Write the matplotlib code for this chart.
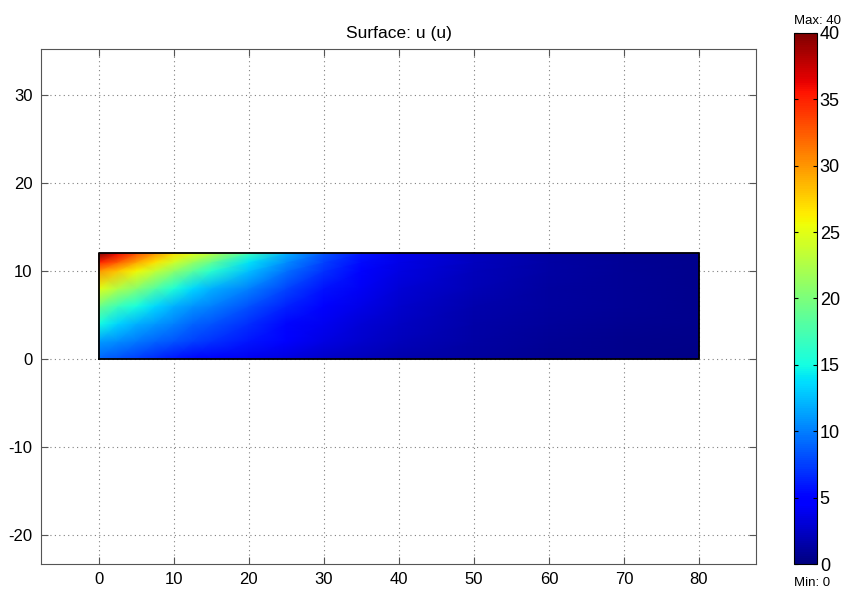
import numpy as np
import matplotlib
matplotlib.use("Agg")
import matplotlib.pyplot as plt

plt.rcParams['font.family'] = ['Liberation Sans', 'DejaVu Sans']
plt.rcParams['axes.unicode_minus'] = False

# sample grid of the surface
x_pts = [0, 2.5, 5, 7.5, 10, 12.5, 15, 20, 25, 30, 35, 40, 50, 60, 70, 80]
y_pts = [0, 2, 4, 6, 8, 10, 11, 12]
u_y0  = [9.0, 8.2, 7.4, 6.6, 5.8, 5.2, 4.7, 4.0, 3.3, 2.6, 2.1, 1.7, 1.1, 0.7, 0.5, 0.3]
u_y2  = [11.2, 10.5, 9.7, 9.0, 8.3, 7.6, 7.0, 5.9, 4.6, 3.5, 2.7, 2.1, 1.3, 0.9, 0.6, 0.4]
u_y4  = [15.0, 13.3, 12.0, 11.0, 10.0, 9.0, 8.3, 6.8, 5.3, 4.0, 3.1, 2.4, 1.5, 1.0, 0.7, 0.5]
u_y6  = [19.5, 17.0, 15.2, 13.5, 12.0, 10.8, 10.0, 8.2, 6.4, 4.8, 3.6, 2.7, 1.7, 1.1, 0.8, 0.5]
u_y8  = [25.0, 22.5, 20.5, 18.0, 15.5, 13.5, 12.0, 10.0, 7.7, 5.7, 4.2, 3.1, 1.9, 1.2, 0.8, 0.6]
u_y10 = [30.0, 28.0, 25.8, 23.5, 21.0, 18.5, 16.0, 12.6, 9.5, 7.0, 5.0, 3.5, 2.1, 1.3, 0.9, 0.6]
u_y11 = [35.0, 32.5, 29.5, 26.8, 24.2, 21.5, 19.0, 14.0, 10.5, 7.6, 5.4, 3.7, 2.2, 1.4, 0.9, 0.6]
u_y12 = [40.0, 36.0, 33.0, 30.0, 27.0, 25.0, 23.0, 17.0, 12.0, 8.3, 5.8, 3.9, 2.3, 1.4, 0.9, 0.6]

cbar_ticks = [0, 5, 10, 15, 20, 25, 30, 35, 40]
x_ticks = [0, 10, 20, 30, 40, 50, 60, 70, 80]
y_ticks = [-20, -10, 0, 10, 20, 30]

U = np.array([u_y0, u_y2, u_y4, u_y6, u_y8, u_y10, u_y11, u_y12])
X, Y = np.meshgrid(x_pts, y_pts)

fig = plt.figure(figsize=(8.46, 5.93), dpi=100)
ax = fig.add_axes([0.0485, 0.0489, 0.8451, 0.8685])
mesh = ax.pcolormesh(X, Y, U, shading='gouraud', cmap='jet', vmin=0, vmax=40, zorder=2)
ax.plot([0, 80, 80, 0, 0], [0, 0, 12, 12, 0], color='black', lw=1.3, zorder=3)

ax.set_xlim(-7.7, 87.6)
ax.set_ylim(-23.3, 35.2)
ax.set_xticks(x_ticks)
ax.set_yticks(y_ticks)
ax.grid(True, linestyle=(0, (1, 3)), color='#808080', lw=0.8, zorder=0)
ax.set_axisbelow(True)
ax.tick_params(direction='in', length=5, labelsize=12, colors='#555555', labelcolor='black',
               top=True, right=True, pad=6)
for s in ax.spines.values():
    s.set_color('#555555')
ax.set_title('Surface: u (u)', fontsize=12.5, pad=8)

cax = fig.add_axes([0.9385, 0.0489, 0.0272, 0.8955])
cb = fig.colorbar(mesh, cax=cax, ticks=cbar_ticks)
cb.outline.set_color('black')
cax.tick_params(direction='in', length=3, labelsize=13, pad=2, left=True, right=True)
cax.text(0.02, 1.012, 'Max: 40', transform=cax.transAxes, ha='left', va='bottom', fontsize=9.5)
cax.text(0.02, -0.024, 'Min: 0', transform=cax.transAxes, ha='left', va='top', fontsize=9.5)

fig.savefig('out.png', dpi=100)
